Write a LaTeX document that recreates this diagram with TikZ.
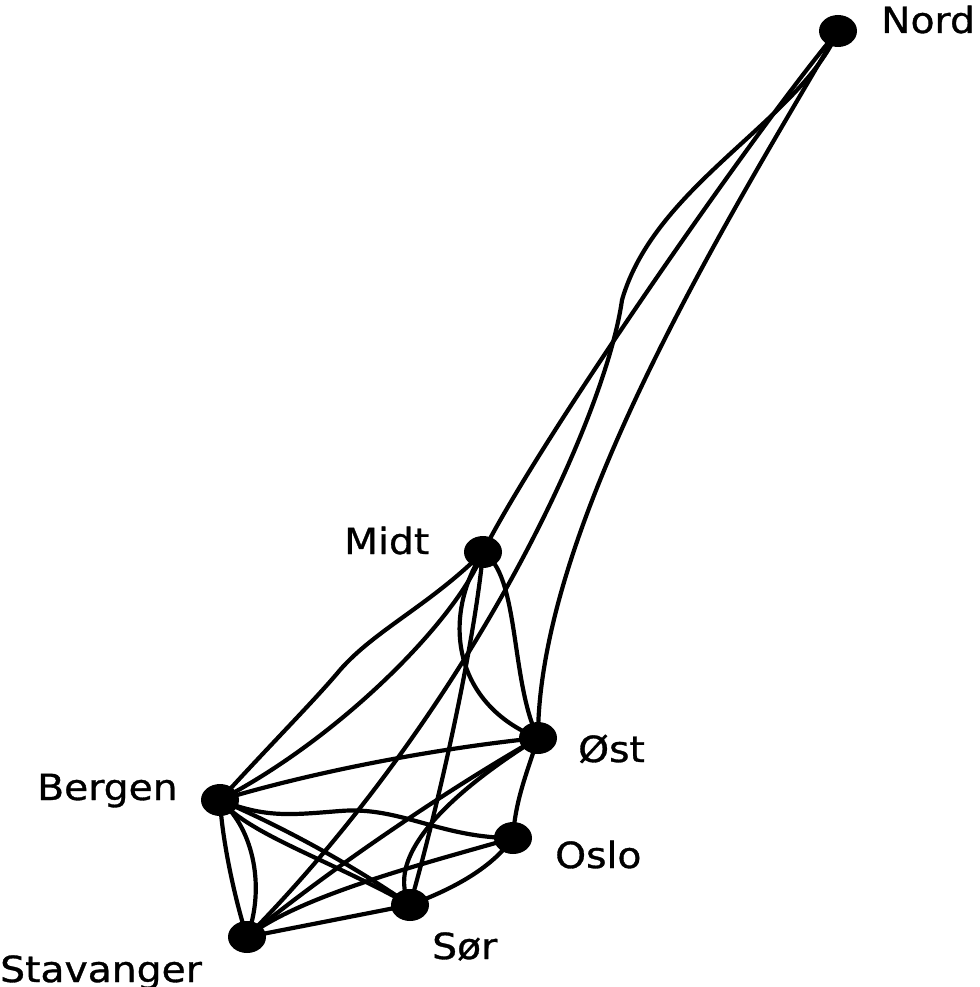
\documentclass[tikz,border=0pt]{standalone}
\usepackage{fontspec}
\newfontfamily\lblfont[FakeStretch=1.09,FakeBold=0.9]{DejaVu Sans}
\usetikzlibrary{shapes.geometric,backgrounds}
\begin{document}
\begin{tikzpicture}[x=1pt,y=-1pt,
  city/.style={ellipse,fill=black,minimum width=38pt,minimum height=32pt,inner sep=0pt},
  lbl/.style={anchor=base west,inner sep=0pt,font=\lblfont\fontsize{36}{40}\selectfont},
  link/.style={line width=4.2pt,black}]
\useasboundingbox (0,0) rectangle (979,987);
% cities
\node[city] (nord) at (838,31) {};
\node[city] (midt) at (483,552) {};
\node[city] (ost) at (538,738) {};
\node[city] (oslo) at (513,838) {};
\node[city] (bergen) at (220,800) {};
\node[city] (sor) at (410,905) {};
\node[city] (stav) at (247,937) {};
% labels
\node[lbl] (lnord) at (881,33) {Nord};
\node[lbl] (lmidt) at (344,554) {Midt};
\node[lbl] (lost) at (578,762) {Øst};
\node[lbl] (loslo) at (555,868) {Oslo};
\node[lbl] (lbergen) at (37,800) {Bergen};
\node[lbl] (lsor) at (432,959) {Sør};
\node[lbl] (lstav) at (0,982) {Stavanger};
\coordinate (nsmid) at (622,300);
\coordinate (mbmid) at (340,670);
\coordinate (bomid) at (340,811);
\begin{pgfonlayer}{background}
% Nord
\draw[link] (nord.center) .. controls (770,110) and (545,430) .. (midt.center);
\draw[link] (nord.center) .. controls (740,200) and (538,520) .. (ost.center);
\draw[link] (nord.center) .. controls (800,120) and (655,185) .. (nsmid)
  .. controls (605,420) and (470,710) .. (stav.center);
% Midt
\draw[link] (midt.center) .. controls (430,605) and (375,630) .. (mbmid)
  .. controls (315,700) and (270,745) .. (bergen.center);
\draw[link] (midt.center) .. controls (460,615) and (345,735) .. (bergen.center);
\draw[link] (midt.center) .. controls (520,575) and (510,680) .. (ost.center);
\draw[link] (midt.center) .. controls (440,620) and (455,705) .. (ost.center);
\draw[link] (midt.center) .. controls (475,640) and (440,800) .. (sor.center);
% Ost
\draw[link] (ost.center) .. controls (440,748) and (320,770) .. (bergen.center);
\draw[link] (ost.center) .. controls (455,785) and (335,865) .. (stav.center);
\draw[link] (ost.center) .. controls (470,780) and (380,850) .. (sor.center);
\draw[link] (ost.center) .. controls (528,770) and (515,800) .. (oslo.center);
% Oslo
\draw[link] (bergen.center) .. controls (265,818) and (290,815) .. (bomid)
  .. controls (400,806) and (440,838) .. (oslo.center);
\draw[link] (oslo.center) .. controls (430,862) and (300,895) .. (stav.center);
\draw[link] (oslo.center) .. controls (490,870) and (450,890) .. (sor.center);
% Bergen
\draw[link] (bergen.center) .. controls (290,830) and (360,870) .. (sor.center);
\draw[link] (bergen.center) .. controls (250,835) and (330,860) .. (sor.center);
\draw[link] (bergen.center) .. controls (222,840) and (235,900) .. (stav.center);
\draw[link] (bergen.center) .. controls (255,830) and (265,890) .. (stav.center);
% Stavanger
\draw[link] (stav.center) -- (sor.center);
\end{pgfonlayer}
\end{tikzpicture}
\end{document}
